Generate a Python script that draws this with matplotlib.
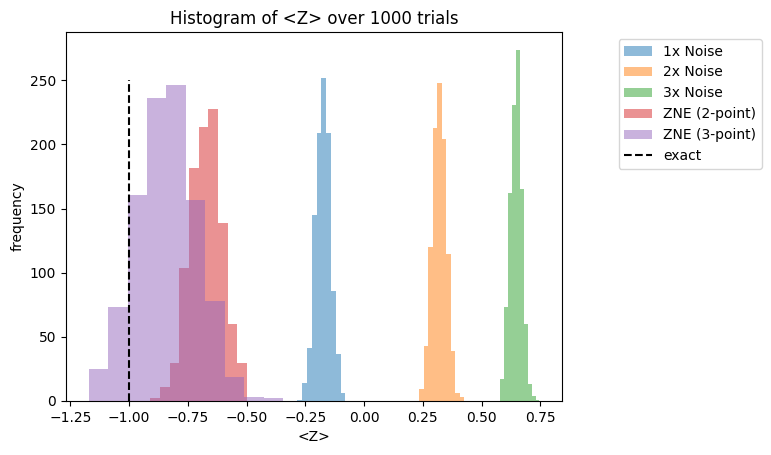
import numpy as np
import matplotlib
matplotlib.use("Agg")
import matplotlib.pyplot as plt

# counts per bin (10 bins each)
counts_1x = [1, 14, 41, 145, 209, 252, 209, 86, 37, 6]
counts_2x = [9, 43, 120, 213, 248, 204, 115, 39, 6, 3]
counts_3x = [17, 73, 162, 231, 274, 165, 60, 13, 4, 1]
counts_zne2 = [2, 11, 30, 104, 182, 214, 228, 139, 60, 30]
counts_zne3 = [25, 73, 161, 236, 246, 157, 78, 19, 3, 2]

# (min, max) of each sample set
range_1x = (-0.284, -0.080)
range_2x = (0.235, 0.427)
range_3x = (0.580, 0.746)
range_zne2 = (-0.910, -0.498)
range_zne3 = (-1.173, -0.344)

labels = ['1x Noise', '2x Noise', '3x Noise', 'ZNE (2-point)', 'ZNE (3-point)']
exact_value = -1.0
exact_height = 250

fig = plt.figure(figsize=(7.71, 4.55), dpi=100)
ax = fig.add_axes([66 / 771, 54 / 455, 496 / 771, 369 / 455])

all_counts = [counts_1x, counts_2x, counts_3x, counts_zne2, counts_zne3]
all_ranges = [range_1x, range_2x, range_3x, range_zne2, range_zne3]

for counts, (lo, hi), lbl in zip(all_counts, all_ranges, labels):
    edges = np.linspace(lo, hi, len(counts) + 1)
    centers = (edges[:-1] + edges[1:]) / 2
    ax.hist(centers, bins=edges, weights=counts, alpha=0.5, label=lbl)

ax.vlines(exact_value, 0, exact_height, colors='k', linestyles='--', label='exact')

ax.set_title('Histogram of <Z> over 1000 trials')
ax.set_xlabel('<Z>')
ax.set_ylabel('frequency')
ax.legend(loc='upper left', bbox_to_anchor=(1.1, 1))

fig.savefig('out.png', dpi=100)
